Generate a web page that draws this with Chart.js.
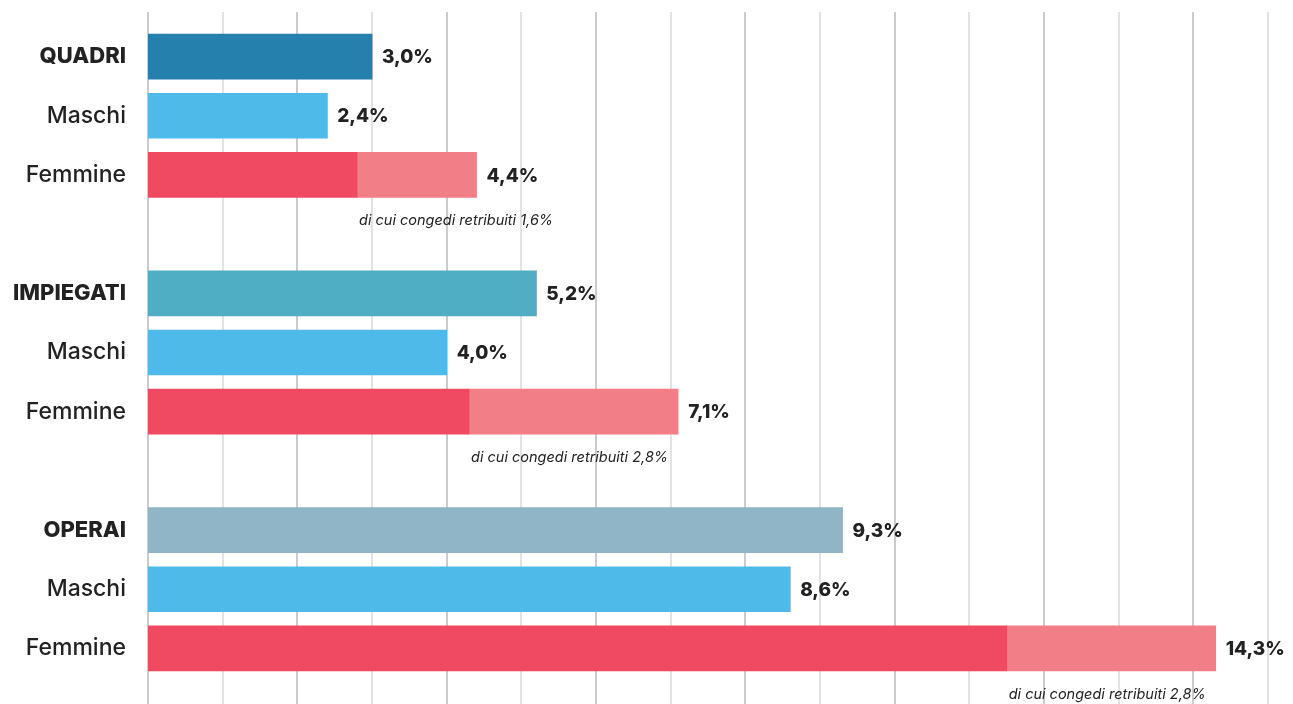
<!DOCTYPE html>
<html>
<head>
<meta charset="utf-8">
<script src="https://cdn.jsdelivr.net/npm/chart.js@4"></script>
<style>
  html, body { margin: 0; padding: 0; background: #fff; }
  #wrap { width: 1293px; height: 704px; position: relative; }
</style>
</head>
<body>
<div id="wrap"><canvas id="chart"></canvas></div>
<script>
// -------------------- DATA --------------------
const categories = ["QUADRI", "Maschi", "Femmine", "", "IMPIEGATI", "Maschi", "Femmine", "", "OPERAI", "Maschi", "Femmine"];
const totals = [3.0, 2.4, 4.4, null, 5.2, 4.0, 7.1, null, 9.3, 8.6, 14.3];
const congedi = [0, 0, 1.6, null, 0, 0, 2.8, null, 0, 0, 2.8];
const valueLabels = ["3,0%", "2,4%", "4,4%", "", "5,2%", "4,0%", "7,1%", "", "9,3%", "8,6%", "14,3%"];
const congediLabels = ["", "", "di cui congedi retribuiti 1,6%", "", "", "", "di cui congedi retribuiti 2,8%", "", "", "", "di cui congedi retribuiti 2,8%"];
const groupRows = ["QUADRI", "IMPIEGATI", "OPERAI"];
const xTicks = [0, 1, 2, 3, 4, 5, 6, 7, 8, 9, 10, 11, 12, 13, 14, 15];

// colours
const rowColors = {
  "QUADRI": "#2580ae",
  "IMPIEGATI": "#4fadc4",
  "OPERAI": "#8fb5c7",
  "Maschi": "#4dbaea",
  "Femmine": "#ef4a62"
};
const congediColor = "#f27e88";
const FONT = "Inter, 'Open Sans', sans-serif";

const baseValues = totals.map((t, i) => t == null ? null : +(t - (congedi[i] || 0)).toFixed(2));

// -------------------- PLUGINS --------------------
const gridPlugin = {
  id: "gridLines",
  beforeDatasetsDraw(chart) {
    const ctx = chart.ctx;
    const xs = chart.scales.x;
    ctx.save();
    ctx.lineWidth = 1.5;
    xTicks.forEach(v => {
      const x = Math.round(xs.getPixelForValue(v));
      ctx.strokeStyle = v % 2 === 0 ? "#b9b9c0" : "#d9d9d9";
      ctx.beginPath();
      ctx.moveTo(x, 12);
      ctx.lineTo(x, chart.height);
      ctx.stroke();
    });
    ctx.restore();
  }
};

const labelPlugin = {
  id: "valueLabels",
  afterDatasetsDraw(chart) {
    const ctx = chart.ctx;
    const xs = chart.scales.x;
    const ys = chart.scales.y;
    ctx.save();
    ctx.fillStyle = "#222";
    ctx.textBaseline = "middle";
    totals.forEach((t, i) => {
      if (t == null) return;
      const y = ys.getPixelForValue(i);
      ctx.font = "800 19px " + FONT;
      ctx.textAlign = "left";
      ctx.fillText(valueLabels[i], xs.getPixelForValue(t) + 10, y + 1);
      if (congediLabels[i]) {
        ctx.font = "italic 14.5px " + FONT;
        ctx.fillText(congediLabels[i], xs.getPixelForValue(baseValues[i]) + 2, y + 46);
      }
    });
    ctx.restore();
  }
};

// -------------------- CHART --------------------
new Chart(document.getElementById("chart"), {
  type: "bar",
  data: {
    labels: categories,
    datasets: [
      {
        label: "Totale",
        data: baseValues,
        backgroundColor: categories.map(c => rowColors[c] || "transparent"),
        barThickness: 45
      },
      {
        label: "Congedi retribuiti",
        data: congedi,
        backgroundColor: congediColor,
        barThickness: 45
      }
    ]
  },
  options: {
    indexAxis: "y",
    responsive: true,
    maintainAspectRatio: false,
    animation: false,
    layout: { padding: { top: 27, bottom: 26, right: 25, left: 0 } },
    plugins: {
      legend: { display: false },
      tooltip: { enabled: false }
    },
    scales: {
      x: {
        stacked: true,
        min: 0,
        max: 15,
        display: false
      },
      y: {
        stacked: true,
        grid: { display: false, drawTicks: false },
        border: { display: false },
        afterFit(scale) {
          scale.width = 148;
          scale.paddingTop = 0;
          scale.paddingBottom = 0;
        },
        ticks: {
          padding: 22,
          color: "#222",
          font: ctx => {
            const lab = categories[ctx.index];
            return groupRows.includes(lab)
              ? { family: FONT, size: 22, weight: "800" }
              : { family: FONT, size: 23, weight: "500" };
          }
        }
      }
    }
  },
  plugins: [gridPlugin, labelPlugin]
});
</script>
</body>
</html>
